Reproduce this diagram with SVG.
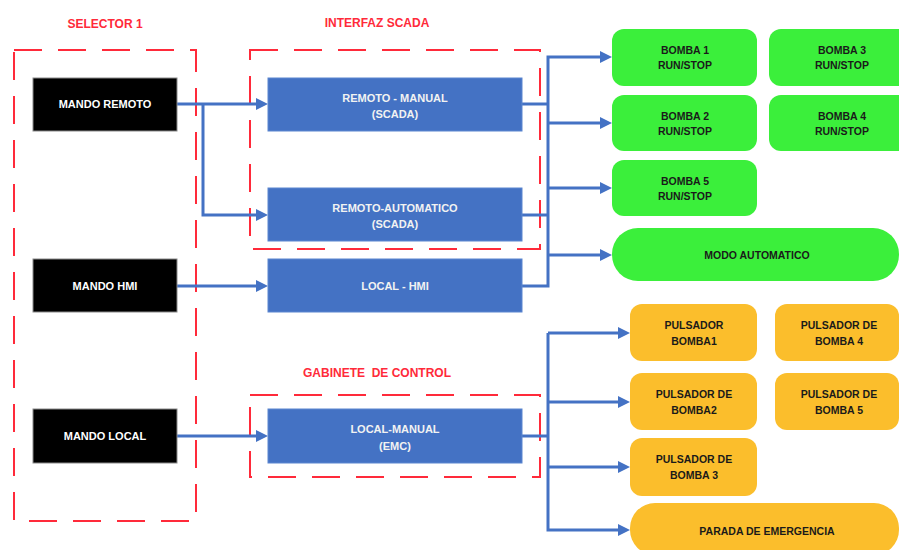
<svg xmlns="http://www.w3.org/2000/svg" width="899" height="550" viewBox="0 0 899 550">
  <style>
    text { font-family: "Liberation Sans", Arial, sans-serif; font-weight: bold; text-anchor: middle; }
    .zone { fill: none; stroke: #FF2A3A; stroke-width: 2; stroke-dasharray: 28 16; }
    .zlabel { fill: #FF2A3A; font-size: 12px; white-space: pre; }
    .sel { fill: #000000; stroke: #8a8a8a; stroke-width: 1; }
    .sel-t { fill: #ffffff; font-size: 11px; }
    .mode { fill: #4472C4; stroke: #5b86d0; stroke-width: 1; }
    .mode-t { fill: #f2f2f2; font-size: 11px; }
    .run { fill: #3BEF3B; }
    .push { fill: #FBBE2C; }
    .out-t { fill: #1a1a1a; font-size: 10.5px; }
    .wire { fill: none; stroke: #4472C4; stroke-width: 3; stroke-linejoin: miter; marker-end: url(#arrow); }
    .wire.plain { marker-end: none; }
  </style>
  <defs>
    <marker id="arrow" viewBox="0 0 12 12" markerWidth="12" markerHeight="12" markerUnits="userSpaceOnUse" refX="2" refY="6" orient="auto">
      <path d="M0,0 L12,6 L0,12 Z" fill="#4472C4"/>
    </marker>
  </defs>

  <rect width="899" height="550" fill="#ffffff"/>

  <!-- zones -->
  <g id="zone-selector">
    <rect class="zone" x="14" y="50" width="182" height="471"/>
    <text class="zlabel" x="105" y="28">SELECTOR 1</text>
  </g>
  <g id="zone-scada">
    <rect class="zone" x="250" y="50" width="290" height="199"/>
    <text class="zlabel" x="377" y="27">INTERFAZ SCADA</text>
  </g>
  <g id="zone-gabinete">
    <rect class="zone" x="250" y="395" width="290" height="82"/>
    <text class="zlabel" x="377" y="377">GABINETE  DE CONTROL</text>
  </g>

  <!-- connectors -->
  <g id="connectors">
    <path class="wire" d="M177,104 H258"/>
    <path class="wire" d="M203,104 V215 H258"/>
    <path class="wire" d="M177,286 H258"/>
    <path class="wire" d="M177,436 H258"/>

    <path class="wire plain" d="M522,104 H548"/>
    <path class="wire plain" d="M522,215 H548"/>
    <path class="wire" d="M522,286 H548 V57 H602"/>
    <path class="wire" d="M548,123 H602"/>
    <path class="wire" d="M548,188 H602"/>
    <path class="wire" d="M548,255 H602"/>

    <path class="wire plain" d="M522,436 H548"/>
    <path class="wire" d="M548,333 H620"/>
    <path class="wire" d="M548,333 V530 H620"/>
    <path class="wire" d="M548,402 H620"/>
    <path class="wire" d="M548,467 H620"/>
  </g>

  <!-- selector positions -->
  <g id="mando-remoto">
    <rect class="sel" x="33" y="78" width="144" height="53"/>
    <text class="sel-t" x="105" y="108">MANDO REMOTO</text>
  </g>
  <g id="mando-hmi">
    <rect class="sel" x="33" y="259" width="144" height="53"/>
    <text class="sel-t" x="105" y="290">MANDO HMI</text>
  </g>
  <g id="mando-local">
    <rect class="sel" x="33" y="409" width="144" height="54"/>
    <text class="sel-t" x="105" y="440">MANDO LOCAL</text>
  </g>

  <!-- operating modes -->
  <g id="remoto-manual">
    <rect class="mode" x="268" y="78" width="254" height="53"/>
    <text class="mode-t" x="395" y="102">REMOTO - MANUAL</text>
    <text class="mode-t" x="395" y="118">(SCADA)</text>
  </g>
  <g id="remoto-automatico">
    <rect class="mode" x="268" y="188" width="254" height="53"/>
    <text class="mode-t" x="395" y="212">REMOTO-AUTOMATICO</text>
    <text class="mode-t" x="395" y="228">(SCADA)</text>
  </g>
  <g id="local-hmi">
    <rect class="mode" x="268" y="259" width="254" height="53"/>
    <text class="mode-t" x="395" y="290">LOCAL - HMI</text>
  </g>
  <g id="local-manual">
    <rect class="mode" x="268" y="409" width="254" height="54"/>
    <text class="mode-t" x="395" y="433">LOCAL-MANUAL</text>
    <text class="mode-t" x="395" y="450">(EMC)</text>
  </g>

  <!-- pump run/stop commands -->
  <g id="bomba-1">
    <rect class="run" x="612" y="29" width="145" height="57" rx="12"/>
    <text class="out-t" x="685" y="54">BOMBA 1</text>
    <text class="out-t" x="685" y="69">RUN/STOP</text>
  </g>
  <g id="bomba-3">
    <rect class="run" x="769" y="29" width="146" height="57" rx="12"/>
    <text class="out-t" x="842" y="54">BOMBA 3</text>
    <text class="out-t" x="842" y="69">RUN/STOP</text>
  </g>
  <g id="bomba-2">
    <rect class="run" x="612" y="95" width="145" height="56" rx="12"/>
    <text class="out-t" x="685" y="120">BOMBA 2</text>
    <text class="out-t" x="685" y="135">RUN/STOP</text>
  </g>
  <g id="bomba-4">
    <rect class="run" x="769" y="95" width="146" height="56" rx="12"/>
    <text class="out-t" x="842" y="120">BOMBA 4</text>
    <text class="out-t" x="842" y="135">RUN/STOP</text>
  </g>
  <g id="bomba-5">
    <rect class="run" x="612" y="160" width="145" height="56" rx="12"/>
    <text class="out-t" x="685" y="185">BOMBA 5</text>
    <text class="out-t" x="685" y="200">RUN/STOP</text>
  </g>
  <g id="modo-automatico">
    <rect class="run" x="612" y="228" width="287" height="53" rx="26"/>
    <text class="out-t" x="757" y="259">MODO AUTOMATICO</text>
  </g>

  <!-- local push buttons -->
  <g id="pulsador-1">
    <rect class="push" x="630" y="304" width="127" height="57" rx="12"/>
    <text class="out-t" x="694" y="329">PULSADOR</text>
    <text class="out-t" x="694" y="345">BOMBA1</text>
  </g>
  <g id="pulsador-4">
    <rect class="push" x="775" y="304" width="124" height="57" rx="12"/>
    <text class="out-t" x="839" y="329">PULSADOR DE</text>
    <text class="out-t" x="839" y="345">BOMBA 4</text>
  </g>
  <g id="pulsador-2">
    <rect class="push" x="630" y="373" width="127" height="57" rx="12"/>
    <text class="out-t" x="694" y="398">PULSADOR DE</text>
    <text class="out-t" x="694" y="414">BOMBA2</text>
  </g>
  <g id="pulsador-5">
    <rect class="push" x="775" y="373" width="124" height="57" rx="12"/>
    <text class="out-t" x="839" y="398">PULSADOR DE</text>
    <text class="out-t" x="839" y="414">BOMBA 5</text>
  </g>
  <g id="pulsador-3">
    <rect class="push" x="630" y="438" width="127" height="58" rx="12"/>
    <text class="out-t" x="694" y="463">PULSADOR DE</text>
    <text class="out-t" x="694" y="479">BOMBA 3</text>
  </g>
  <g id="parada-emergencia">
    <rect class="push" x="630" y="503" width="269" height="52" rx="25"/>
    <text class="out-t" x="767" y="535">PARADA DE EMERGENCIA</text>
  </g>
</svg>
